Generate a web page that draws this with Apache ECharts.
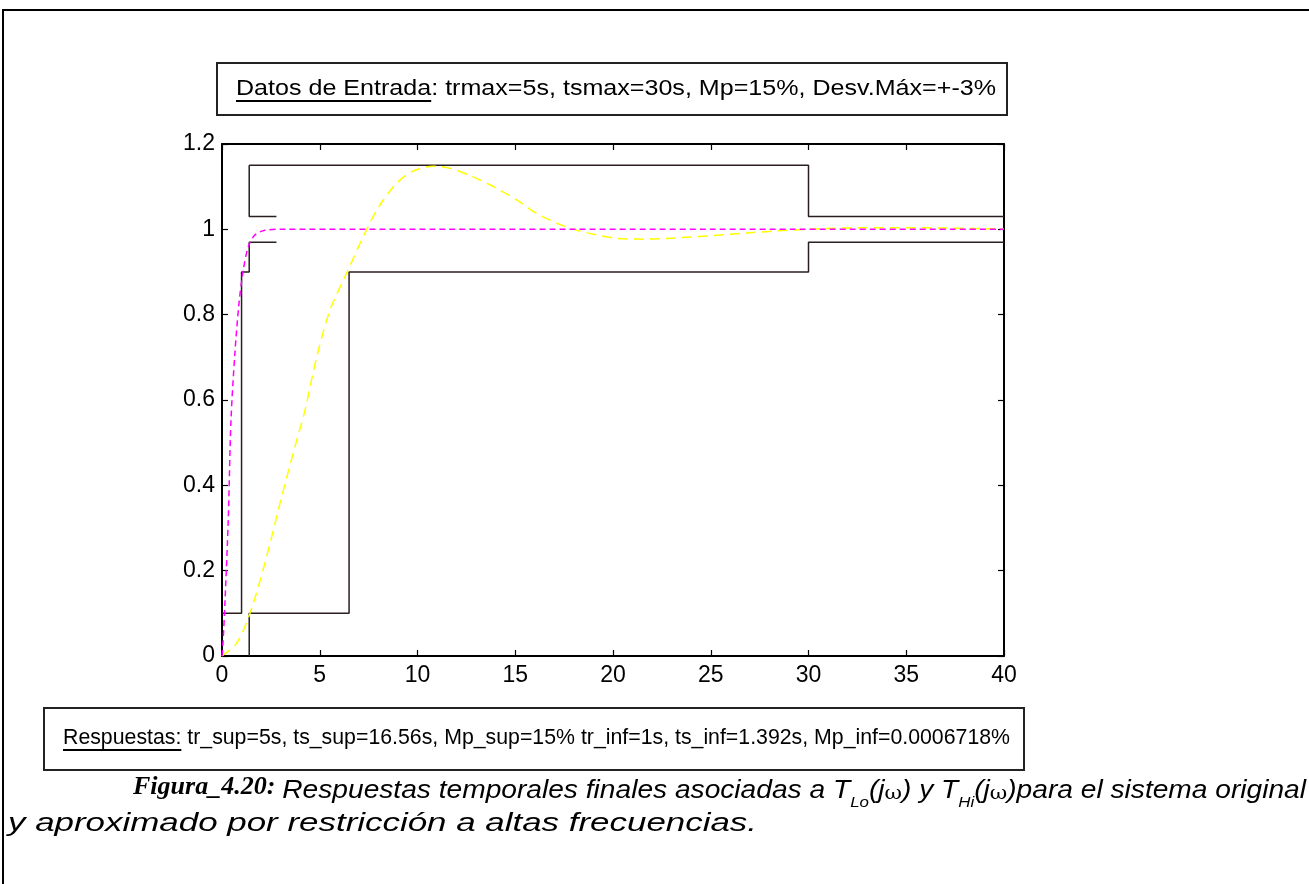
<!DOCTYPE html>
<html>
<head>
<meta charset="utf-8">
<script src="https://cdn.jsdelivr.net/npm/echarts@6/dist/echarts.min.js"></script>
<style>
  html, body { margin: 0; padding: 0; background: #fff; }
  #chart { width: 1309px; height: 884px; }
</style>
</head>
<body>
<div id="chart"></div>
<script>
// Axis ticks
const xTicks = [0, 5, 10, 15, 20, 25, 30, 35, 40];
const yTicks = [0, 0.2, 0.4, 0.6, 0.8, 1, 1.2];
const yTickLabels = ['0', '0.2', '0.4', '0.6', '0.8', '1', '1.2'];

// Time-domain specification bounds (time [s], amplitude)
const lowerInfT = [0, 1, 1, 1.392, 1.392, 2.784];
const lowerInfV = [0.1, 0.1, 0.9, 0.9, 0.97, 0.97];
const upperInfT = [2.784, 1.392, 1.392];
const upperInfV = [1.03, 1.03, 1.15];
const upperSupT = [1.392, 30, 30, 40];
const upperSupV = [1.15, 1.15, 1.03, 1.03];
const lowerSupT = [1.392, 1.392, 6.5, 6.5, 30, 30, 40];
const lowerSupV = [0, 0.1, 0.1, 0.9, 0.9, 0.97, 0.97];

// Step response of the original system (slow, 15% overshoot)
const respSupT = [0, 0.75, 1.43, 2.2, 3.05, 3.73, 4.25, 4.84, 5.52, 6.4, 7.4, 8.08, 8.93, 9.7, 10.8, 11.66,
  12.85, 14.05, 15.07, 16.1, 17.46, 18.14, 19.17, 20.19, 21.72, 23.26, 25, 27, 29, 31, 33, 35, 37, 40];
const respSupV = [0, 0.03, 0.1, 0.218, 0.373, 0.49, 0.577, 0.70, 0.81, 0.90, 1.0, 1.057, 1.108, 1.135, 1.148, 1.143,
  1.123, 1.096, 1.069, 1.037, 1.008, 0.998, 0.987, 0.979, 0.977, 0.98, 0.985, 0.992, 0.998, 1.002, 1.004, 1.004, 1.003, 1.001];

// Step response of the approximated system (fast)
const respInfT = [0, 0.05, 0.15, 0.32, 0.46, 0.66, 0.87, 1.09, 1.35, 1.69, 2.2, 3, 40];
const respInfV = [0, 0.03, 0.124, 0.319, 0.553, 0.71, 0.827, 0.905, 0.96, 0.987, 0.998, 1.0, 1.0];

const topText = 'Datos de Entrada: trmax=5s, tsmax=30s, Mp=15%, Desv.Máx=+-3%';
const topUnderlined = 'Datos de Entrada';
const bottomText = 'Respuestas: tr_sup=5s, ts_sup=16.56s, Mp_sup=15% tr_inf=1s, ts_inf=1.392s, Mp_inf=0.0006718%';
const bottomUnderlined = 'Respuestas:';
const captionLabel = 'Figura_4.20:';
const captionLine2 = 'y aproximado por restricción a altas frecuencias.';

const zip = (t, v) => t.map((x, i) => [x, v[i]]);

const SANS = '"Liberation Sans", Arial, sans-serif';
const SERIF = '"Liberation Serif", "Times New Roman", serif';
const boundColor = '#2a1e1e';

const measureCtx = document.createElement('canvas').getContext('2d');
function textWidth(str, font) {
  measureCtx.font = font;
  return measureCtx.measureText(str).width;
}
// horizontal stretch needed so that a string spans a given width
function fitScale(str, font, width) {
  return width / textWidth(str, font);
}

const boundSeries = [
  [lowerInfT, lowerInfV], [upperInfT, upperInfV], [upperSupT, upperSupV], [lowerSupT, lowerSupV]
].map(([t, v]) => ({
  type: 'line', data: zip(t, v), symbol: 'none', silent: true,
  lineStyle: { color: boundColor, width: 1.5 }, z: 3
}));

const axisCommon = {
  min: 0,
  axisLine: { show: true, onZero: false, lineStyle: { color: '#000', width: 2 } },
  axisTick: { show: true, inside: true, length: 6, lineStyle: { color: '#000', width: 1.2 } },
  splitLine: { show: false }
};

// Box texts
const topFont = '22px ' + SANS;
const topScale = fitScale(topText, topFont, 760);
const botFont = '22px ' + SANS;
const botScale = fitScale(bottomText, botFont, 947);

// Caption (line 1 rich text pieces)
const capSize = 25;
const capItalic = 'italic ' + capSize + 'px ' + SANS;
const capSub = 'italic 15px ' + SANS;
const capOmega = '19px "DejaVu Serif", serif';
const capLabelFont = 'italic bold 26px ' + SERIF;
const capTokens = [
  ['i', 'Respuestas temporales finales asociadas a T'], ['s', 'Lo'], ['i', '(j'], ['w', 'ω'], ['i', ') y T'],
  ['s', 'Hi'], ['i', '(j'], ['w', 'ω'], ['i', ')para el sistema original']
];
const capFonts = { i: capItalic, s: capSub, w: capOmega };
const capRestWidth = capTokens.reduce((a, [k, s]) => a + textWidth(s, capFonts[k]), 0);
const capLabelW = textWidth(captionLabel, capLabelFont);
const capRestX = 133 + capLabelW + 7;
const capRestScale = (1306 - capRestX) / capRestWidth;
const capLine2Scale = fitScale(captionLine2, capItalic, 749);

const option = {
  animation: false,
  backgroundColor: '#fff',
  grid: { left: 222, top: 144, width: 782, height: 512, containLabel: false },
  xAxis: [
    Object.assign({}, axisCommon, {
      type: 'value', position: 'bottom', max: 40, interval: 5,
      axisLabel: { show: true, color: '#000', fontSize: 23, fontFamily: SANS, margin: 8,
        formatter: v => String(xTicks[xTicks.indexOf(v)]) }
    }),
    Object.assign({}, axisCommon, {
      type: 'value', position: 'top', max: 40, interval: 5, axisLabel: { show: false }
    })
  ],
  yAxis: [
    Object.assign({}, axisCommon, {
      type: 'value', position: 'left', max: 1.2, interval: 0.2,
      axisLabel: { show: true, color: '#000', fontSize: 23, fontFamily: SANS, margin: 7,
        formatter: (v) => {
          const i = yTicks.findIndex(t => Math.abs(t - v) < 1e-6);
          return i >= 0 ? yTickLabels[i] : '';
        } }
    }),
    Object.assign({}, axisCommon, {
      type: 'value', position: 'right', max: 1.2, interval: 0.2, axisLabel: { show: false }
    })
  ],
  series: boundSeries.concat([
    {
      type: 'line', data: zip(respSupT, respSupV), symbol: 'none', smooth: 0.3, silent: true,
      lineStyle: { color: '#ffff00', width: 1.5, type: [10, 6] }, z: 4
    },
    {
      type: 'line', data: zip(respInfT, respInfV), symbol: 'none', smooth: 0.3, silent: true,
      lineStyle: { color: '#ff00ff', width: 1.5, type: [6, 4] }, z: 5
    }
  ]),
  graphic: [
    // outer figure frame
    { type: 'polyline', shape: { points: [[3, 884], [3, 10], [1309, 10]] },
      style: { stroke: '#000', lineWidth: 2, fill: null } },
    // input data box
    { type: 'rect', shape: { x: 217, y: 63, width: 790, height: 52 },
      style: { stroke: '#222', lineWidth: 2, fill: '#fff' } },
    { type: 'text', x: 236, y: 89, scaleX: topScale,
      style: { text: topText, font: topFont, fill: '#000', verticalAlign: 'middle', align: 'left' } },
    { type: 'line', shape: { x1: 236, y1: 101, x2: 236 + textWidth(topUnderlined, topFont) * topScale, y2: 101 },
      style: { stroke: '#000', lineWidth: 2 } },
    // results box
    { type: 'rect', shape: { x: 44, y: 708, width: 980, height: 62 },
      style: { stroke: '#222', lineWidth: 2, fill: '#fff' } },
    { type: 'text', x: 63, y: 738, scaleX: botScale,
      style: { text: bottomText, font: botFont, fill: '#000', verticalAlign: 'middle', align: 'left' } },
    { type: 'line', shape: { x1: 63, y1: 750, x2: 63 + textWidth(bottomUnderlined, botFont) * botScale, y2: 750 },
      style: { stroke: '#000', lineWidth: 2 } },
    // figure caption
    { type: 'text', x: 133, y: 800,
      style: { text: captionLabel, font: capLabelFont, fill: '#000', verticalAlign: 'bottom', align: 'left' } },
    { type: 'text', x: capRestX, y: 774, scaleX: capRestScale,
      style: {
        text: capTokens.map(([k, s]) => '{' + k + '|' + s + '}').join(''),
        align: 'left', verticalAlign: 'top',
        rich: {
          i: { fontFamily: SANS, fontStyle: 'italic', fontSize: capSize, lineHeight: 30, fill: '#000', verticalAlign: 'bottom' },
          w: { fontFamily: '"DejaVu Serif", serif', fontSize: 19, lineHeight: 30, fill: '#000', verticalAlign: 'bottom' },
          s: { fontFamily: SANS, fontStyle: 'italic', fontSize: 15, lineHeight: 22, fill: '#000', verticalAlign: 'bottom', padding: [0, 0, -6, 0] }
        }
      } },
    { type: 'text', x: 8, y: 812, scaleX: capLine2Scale,
      style: { text: captionLine2, font: capItalic, fill: '#000', verticalAlign: 'top', align: 'left' } }
  ]
};

const chart = echarts.init(document.getElementById('chart'), null, { renderer: 'canvas' });
chart.setOption(option);
</script>
</body>
</html>
